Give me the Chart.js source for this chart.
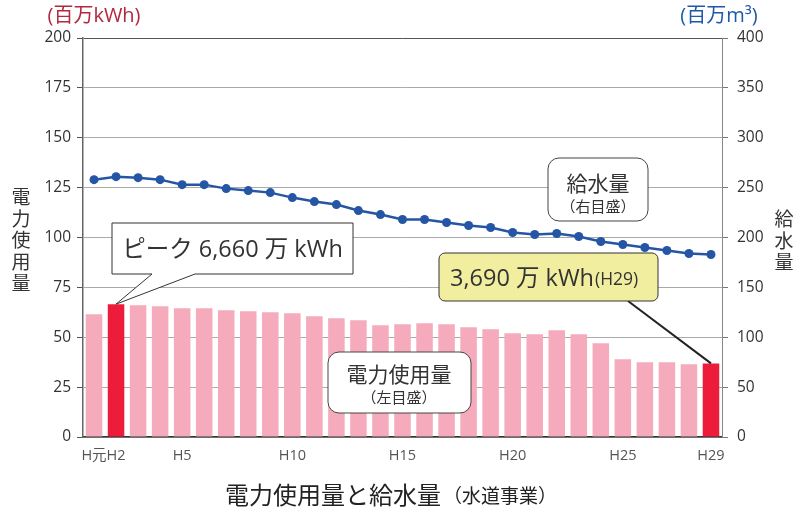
<!DOCTYPE html>
<html>
<head>
<meta charset="utf-8">
<script src="https://cdn.jsdelivr.net/npm/chart.js@4.4.1/dist/chart.umd.min.js"></script>
<style>
  html, body { margin: 0; padding: 0; background: #fff; }
  #wrap { width: 806px; height: 514px; position: relative; }
</style>
</head>
<body>
<div id="wrap"><canvas id="c" width="806" height="514"></canvas></div>
<script>
'use strict';
// 電力使用量（棒・左目盛）と給水量（折れ線・右目盛） H元〜H29

const LABELS = ['H元', 'H2', 'H3', 'H4', 'H5', 'H6', 'H7', 'H8', 'H9', 'H10', 'H11', 'H12', 'H13', 'H14', 'H15',
  'H16', 'H17', 'H18', 'H19', 'H20', 'H21', 'H22', 'H23', 'H24', 'H25', 'H26', 'H27', 'H28', 'H29'];
const SHOWN = ['H元', 'H2', 'H5', 'H10', 'H15', 'H20', 'H25', 'H29'];
const POWER = [61.5, 66.6, 66, 65.5, 64.5, 64.5, 63.5, 63, 62.5, 62, 60.5, 59.5, 58.5, 56, 56.5,
  57, 56.5, 55, 54, 52, 51.5, 53.5, 51.5, 47, 39, 37.5, 37.5, 36.5, 36.9];      // 百万kWh
const WATER = [258, 261, 260, 258, 253, 253, 249, 247, 245, 240, 236, 233, 227, 223, 218,
  218, 215, 212, 210, 205, 203, 204, 201, 196, 193, 190, 187, 184, 183];         // 百万m3
const LEFT_TICKS = [0, 25, 50, 75, 100, 125, 150, 175, 200];
const RIGHT_TICKS = [0, 50, 100, 150, 200, 250, 300, 350, 400];
const PEAK = 1, LAST = 28;

const FONT = '"Open Sans", "Noto Sans CJK JP", sans-serif';
const JFONT = '"Noto Sans CJK JP", sans-serif';
const PINK = '#f5abbb', RED = '#ee1c3b', BLUE = '#2456a5', INK = '#333';

function roundRect(ctx, x, y, w, h, r) {
  ctx.beginPath();
  ctx.moveTo(x + r, y);
  ctx.arcTo(x + w, y, x + w, y + h, r);
  ctx.arcTo(x + w, y + h, x, y + h, r);
  ctx.arcTo(x, y + h, x, y, r);
  ctx.arcTo(x, y, x + w, y, r);
  ctx.closePath();
}
function txt(ctx, s, x, y, size, color, align, fam) {
  ctx.font = `${size}px ${fam || FONT}`;
  ctx.fillStyle = color || INK;
  ctx.textAlign = align || 'center';
  ctx.textBaseline = 'middle';
  ctx.fillText(s, x, y);
  return ctx.measureText(s).width;
}

// 注記（吹き出し・目盛ラベル・タイトル）
const notes = {
  id: 'notes',
  afterDraw(chart) {
    const ctx = chart.ctx, xs = chart.scales.x, ys = chart.scales.y;
    ctx.save();

    // 単位
    txt(ctx, '(百万kWh)', 94, 16, 20, '#b2283f');
    txt(ctx, '(百万m³)', 719, 16, 20, '#1f58a8');

    // 縦書き軸タイトル
    [...'電力使用量'].forEach((ch, i) => txt(ctx, ch, 21, 197 + i * 21.5, 19, INK, 'center', JFONT));
    [...'給水量'].forEach((ch, i) => txt(ctx, ch, 784, 219 + i * 21.5, 19, INK, 'center', JFONT));

    // ピーク 吹き出し
    const px = xs.getPixelForValue(PEAK), py = ys.getPixelForValue(POWER[PEAK]);
    const bx = 112, by = 223, bw = 241, bh = 51;
    ctx.beginPath();
    ctx.moveTo(bx, by); ctx.lineTo(bx + bw, by); ctx.lineTo(bx + bw, by + bh);
    ctx.lineTo(195, by + bh); ctx.lineTo(px, py); ctx.lineTo(152, by + bh);
    ctx.lineTo(bx, by + bh); ctx.closePath();
    ctx.fillStyle = '#fff'; ctx.fill();
    ctx.strokeStyle = '#333'; ctx.lineWidth = 1; ctx.stroke();
    txt(ctx, 'ピーク 6,660 万 kWh', bx + bw / 2, 250, 23.5, INK);

    // 給水量（右目盛）
    roundRect(ctx, 548, 158, 100, 63, 11);
    ctx.fillStyle = '#fff'; ctx.fill(); ctx.strokeStyle = '#444'; ctx.lineWidth = 1; ctx.stroke();
    txt(ctx, '給水量', 598, 183, 21, INK, 'center', JFONT);
    txt(ctx, '（右目盛）', 598, 206, 15, INK, 'center', JFONT);

    // 電力使用量（左目盛）
    roundRect(ctx, 328, 352, 143, 61, 11);
    ctx.fillStyle = '#fff'; ctx.fill(); ctx.strokeStyle = '#444'; ctx.stroke();
    txt(ctx, '電力使用量', 399, 374, 21, INK, 'center', JFONT);
    txt(ctx, '（左目盛）', 399, 397, 15, INK, 'center', JFONT);

    // H29 の値
    const lx = xs.getPixelForValue(LAST), ly = ys.getPixelForValue(POWER[LAST]);
    ctx.beginPath(); ctx.moveTo(628, 301); ctx.lineTo(lx, ly);
    ctx.strokeStyle = '#222'; ctx.lineWidth = 2; ctx.stroke();
    roundRect(ctx, 439, 253, 219, 48, 6);
    ctx.fillStyle = '#f1ef9f'; ctx.fill(); ctx.strokeStyle = '#333'; ctx.lineWidth = 1; ctx.stroke();
    const w1 = txt(ctx, '3,690 万 kWh', 450, 279, 23.5, INK, 'left');
    txt(ctx, '(H29)', 451 + w1, 280, 17.5, INK, 'left');

    // タイトル
    const w2 = txt(ctx, '電力使用量と給水量', 225, 495, 24, '#222', 'left', JFONT);
    txt(ctx, '（水道事業）', 225 + w2 + 2, 496, 19, '#222', 'left', JFONT);

    ctx.restore();
  }
};

new Chart(document.getElementById('c'), {
  data: {
    labels: LABELS,
    datasets: [
      { type: 'line', label: '給水量', data: WATER, yAxisID: 'y2', order: 0,
        borderColor: BLUE, backgroundColor: BLUE, borderWidth: 2.5, pointRadius: 4.5,
        pointBackgroundColor: BLUE, pointBorderWidth: 0, tension: 0 },
      { type: 'bar', label: '電力使用量', data: POWER, yAxisID: 'y', order: 1,
        backgroundColor: POWER.map((v, i) => (i === PEAK || i === LAST) ? RED : PINK),
        borderWidth: 0, barPercentage: 0.75, categoryPercentage: 1 },
    ],
  },
  options: {
    responsive: false, animation: false, events: [],
    layout: { padding: { top: 38, left: 0, right: 0, bottom: 0 } },
    plugins: { legend: { display: false }, tooltip: { enabled: false } },
    scales: {
      x: {
        grid: { display: false, drawTicks: false },
        border: { color: '#333', width: 1.5 },
        afterFit: s => { s.height = 77; },
        ticks: {
          autoSkip: false, maxRotation: 0, padding: 10, color: '#555', font: { family: FONT, size: 14.5 },
          callback: (v, i) => SHOWN.includes(LABELS[i]) ? LABELS[i] : '',
        },
      },
      y: {
        position: 'left', min: 0, max: 200,
        afterFit: s => { s.width = 83; },
        afterBuildTicks: s => { s.ticks = LEFT_TICKS.map(v => ({ value: v })); },
        grid: { color: c => c.tick && c.tick.value === 200 ? '#555' : '#aaa', lineWidth: 1, tickLength: 6,
          tickColor: '#555' },
        border: { color: '#666', width: 1.5 },
        ticks: { padding: 6, color: INK, font: { family: FONT, size: 15.5 } },
      },
      y2: {
        position: 'right', min: 0, max: 400,
        afterFit: s => { s.width = 84; },
        afterBuildTicks: s => { s.ticks = RIGHT_TICKS.map(v => ({ value: v })); },
        grid: { drawOnChartArea: false, tickLength: 6, color: '#777' },
        border: { color: '#888', width: 1 },
        ticks: { padding: 9, color: INK, font: { family: FONT, size: 15.5 } },
      },
    },
  },
  plugins: [notes],
});
</script>
</body>
</html>
